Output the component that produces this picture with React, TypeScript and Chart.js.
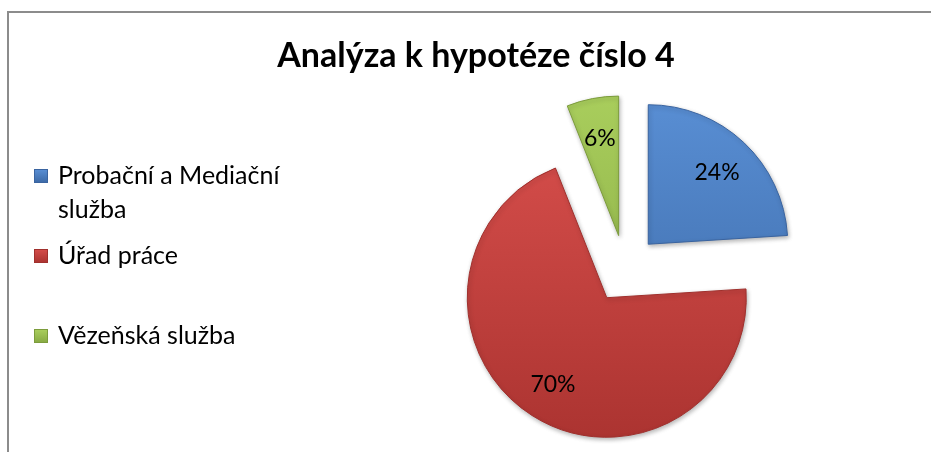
import React, { useEffect, useRef } from "react";
import { Chart, registerables } from "chart.js";

Chart.register(...registerables);

// ---- data ----
const TITLE = "Analýza k hypotéze číslo 4";
const categories = ["Probační a Mediační služba", "Úřad práce", "Vězeňská služba"];
const shares = [24, 70, 6];
const valueLabels = ["24%", "70%", "6%"];

// ---- styles ----
const COLORS_TOP = ["#5a90d6", "#d64e4b", "#abd05e"];
const COLORS_BOTTOM = ["#3b68a5", "#a9322f", "#86a842"];
const BORDERS = ["#3a64a0", "#a0302d", "#7c9c3c"];
const EXPLODE = 34;
const FONT = "Lato, 'Noto Sans', sans-serif";

function makeGradient(chart: any, i: number) {
  const area = chart.chartArea;
  if (!area) return COLORS_TOP[i];
  const g = chart.ctx.createLinearGradient(0, area.top - 20, 0, area.bottom + 20);
  g.addColorStop(0, COLORS_TOP[i]);
  g.addColorStop(1, COLORS_BOTTOM[i]);
  return g;
}

const framePlugin = {
  id: "frame",
  beforeDraw(chart: any) {
    const ctx = chart.ctx;
    ctx.save();
    ctx.fillStyle = "#ffffff";
    ctx.fillRect(0, 0, chart.width, chart.height);
    ctx.strokeStyle = "#8c8c8c";
    ctx.lineWidth = 2;
    ctx.strokeRect(8, 12, chart.width + 20, chart.height + 20);
    ctx.restore();
  },
};

const explodePlugin = {
  id: "explode",
  beforeDatasetDraw(chart: any, args: any) {
    const ctx = chart.ctx;
    args.meta.data.forEach((arc: any) => {
      const mid = (arc.startAngle + arc.endAngle) / 2;
      ctx.save();
      ctx.shadowColor = "rgba(0,0,0,0.28)";
      ctx.shadowBlur = 4;
      ctx.shadowOffsetX = 1;
      ctx.shadowOffsetY = 2;
      ctx.translate(Math.cos(mid) * EXPLODE, Math.sin(mid) * EXPLODE);
      arc.draw(ctx);
      ctx.restore();
    });
    return false;
  },
  afterDatasetsDraw(chart: any) {
    const ctx = chart.ctx;
    const meta = chart.getDatasetMeta(0);
    ctx.save();
    ctx.fillStyle = "#000000";
    ctx.font = `23px ${FONT}`;
    ctx.textAlign = "center";
    ctx.textBaseline = "middle";
    meta.data.forEach((arc: any, i: number) => {
      const mid = (arc.startAngle + arc.endAngle) / 2;
      const r = EXPLODE + arc.outerRadius * 0.72;
      const x = arc.x + Math.cos(mid) * r;
      const y = arc.y + Math.sin(mid) * r;
      ctx.fillText(valueLabels[i], x, y + 2);
    });
    ctx.restore();
  },
};

const textPlugin = {
  id: "texts",
  afterDraw(chart: any) {
    const ctx = chart.ctx;
    ctx.save();
    ctx.fillStyle = "#000000";
    // title
    ctx.font = `bold 34px ${FONT}`;
    ctx.textAlign = "center";
    ctx.textBaseline = "alphabetic";
    ctx.fillText(TITLE, 476, 67);
    // legend
    ctx.font = `25px ${FONT}`;
    ctx.textAlign = "left";
    ctx.textBaseline = "middle";
    const maxW = 250;
    categories.forEach((label, i) => {
      const y0 = 176 + 80 * i;
      const g = ctx.createLinearGradient(0, y0 - 7, 0, y0 + 7);
      g.addColorStop(0, COLORS_TOP[i]);
      g.addColorStop(1, COLORS_BOTTOM[i]);
      ctx.fillStyle = g;
      ctx.fillRect(34, y0 - 7, 14, 14);
      ctx.strokeStyle = BORDERS[i];
      ctx.lineWidth = 1;
      ctx.strokeRect(34.5, y0 - 6.5, 13, 13);
      ctx.fillStyle = "#000000";
      const words = label.split(" ");
      const lines: string[] = [];
      let cur = "";
      words.forEach((w) => {
        const t = cur ? cur + " " + w : w;
        if (ctx.measureText(t).width > maxW && cur) {
          lines.push(cur);
          cur = w;
        } else cur = t;
      });
      if (cur) lines.push(cur);
      lines.forEach((ln, k) => ctx.fillText(ln, 58, y0 + 34 * k));
    });
    ctx.restore();
  },
};

export default function App() {
  const ref = useRef<HTMLCanvasElement>(null);
  useEffect(() => {
    if (!ref.current) return;
    const chart = new Chart(ref.current, {
      type: "pie",
      data: {
        labels: categories,
        datasets: [
          {
            data: shares,
            backgroundColor: (c: any) => makeGradient(c.chart, c.dataIndex),
            borderColor: BORDERS,
            borderWidth: 1,
            hoverOffset: 0,
            offset: 0,
          },
        ],
      },
      options: {
        responsive: false,
        animation: false,
        devicePixelRatio: 1,
        layout: { padding: { left: 485, top: 129, right: 166, bottom: 43 } },
        plugins: {
          legend: { display: false },
          title: { display: false },
          tooltip: { enabled: false },
        },
        events: [],
      },
      plugins: [framePlugin, explodePlugin, textPlugin],
    } as any);
    return () => chart.destroy();
  }, []);
  return (
    <div style={{ position: "fixed", left: 0, top: 0, width: 931, height: 452, background: "#fff" }}>
      <canvas ref={ref} width={931} height={452} style={{ display: "block" }} />
    </div>
  );
}
